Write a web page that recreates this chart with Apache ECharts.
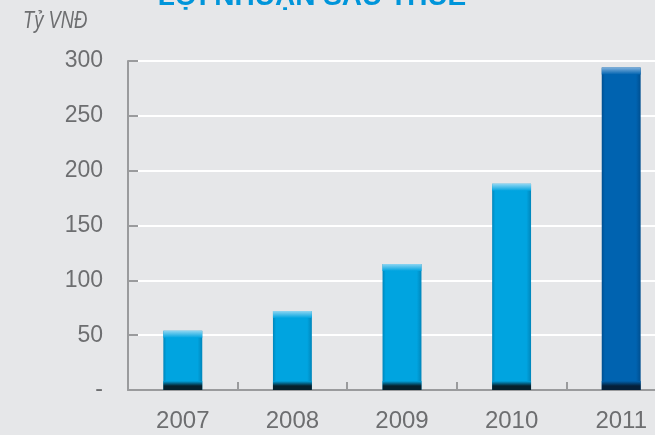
<!DOCTYPE html>
<html>
<head>
<meta charset="utf-8">
<script src="https://cdn.jsdelivr.net/npm/echarts@6/dist/echarts.min.js"></script>
<style>
  html, body { margin: 0; padding: 0; background: #e6e7e9; }
  #chart { width: 655px; height: 435px; }
</style>
</head>
<body>
<div id="chart"></div>
<script>
// Lợi nhuận sau thuế theo năm (tỷ VNĐ)
const years = ['2007', '2008', '2009', '2010', '2011'];
const profit = [54, 72, 115, 188, 294];
const yTicks = [0, 50, 100, 150, 200, 250, 300];

const lightBlue = { main: '#00a4e0', edge: '#0086bb', cap: '#8fd6f2', foot: '#06202c' };
const darkBlue  = { main: '#0063b0', edge: '#004f90', cap: '#7fb0dc', foot: '#05203a' };

const chart = echarts.init(document.getElementById('chart'), null, { renderer: 'canvas' });

function renderBar(params, api) {
  const idx = api.value(0);
  const val = api.value(1);
  const top = api.coord([idx, val]);
  const base = api.coord([idx, 0]);
  const w = api.size([1, 0])[0] * 0.355;
  const x = top[0] - w / 2;
  const h = base[1] - top[1];
  const c = idx === years.length - 1 ? darkBlue : lightBlue;
  const capH = Math.min(7, h / 3);
  const footH = Math.min(9, h / 3);
  return {
    type: 'group',
    children: [
      {
        type: 'rect',
        shape: { x: x, y: top[1], width: w, height: h },
        style: {
          fill: new echarts.graphic.LinearGradient(0, 0, 1, 0, [
            { offset: 0, color: c.edge },
            { offset: 0.08, color: c.main },
            { offset: 0.88, color: c.main },
            { offset: 1, color: c.edge }
          ])
        }
      },
      {
        type: 'rect',
        shape: { x: x, y: top[1], width: w, height: capH },
        style: {
          fill: new echarts.graphic.LinearGradient(0, 0, 0, 1, [
            { offset: 0, color: c.cap },
            { offset: 1, color: c.main }
          ])
        }
      },
      {
        type: 'rect',
        shape: { x: x, y: base[1] - footH, width: w, height: footH },
        style: {
          fill: new echarts.graphic.LinearGradient(0, 0, 0, 1, [
            { offset: 0, color: c.main },
            { offset: 0.55, color: c.foot },
            { offset: 1, color: c.foot }
          ])
        }
      }
    ]
  };
}

chart.setOption({
  backgroundColor: '#e6e7e9',
  animation: false,
  title: {
    text: 'LỢI NHUẬN SAU THUẾ',
    left: 307,
    textAlign: 'center',
    top: -22,
    textStyle: { color: '#0095da', fontSize: 28, fontWeight: 'bold', fontFamily: 'Liberation Sans' }
  },
  graphic: [
    {
      type: 'text',
      left: 23,
      top: 10,
      scaleX: 0.8,
      style: {
        text: 'Tỷ VNĐ',
        fill: '#6d6e70',
        font: 'italic 23px "Liberation Sans"'
      }
    }
  ],
  grid: { left: 128, top: 61, height: 329, width: 548, containLabel: false, outerBoundsMode: 'none' },
  xAxis: {
    type: 'category',
    data: years,
    boundaryGap: true,
    axisLine: { show: true, lineStyle: { color: '#9a9b9d', width: 2 } },
    axisTick: { show: true, inside: true, length: 8, alignWithLabel: false, lineStyle: { color: '#9a9b9d', width: 2 } },
    axisLabel: { color: '#6d6e70', fontSize: 24, fontFamily: 'Liberation Sans', margin: 19 },
    splitLine: { show: false }
  },
  yAxis: {
    type: 'value',
    min: 0,
    max: 300,
    interval: 50,
    axisLine: { show: true, lineStyle: { color: '#9a9b9d', width: 2 } },
    axisTick: { show: true, inside: true, length: 10, lineStyle: { color: '#9a9b9d', width: 2 } },
    axisLabel: {
      color: '#6d6e70', fontSize: 23, fontFamily: 'Liberation Sans', margin: 25,
      formatter: function (v) { return yTicks.indexOf(v) === 0 ? '-' : String(v); }
    },
    splitLine: { show: true, lineStyle: { color: '#ffffff', width: 2 } }
  },
  series: [
    {
      type: 'custom',
      renderItem: renderBar,
      encode: { x: 0, y: 1 },
      data: profit.map(function (v, i) { return [i, v]; }),
      z: 3
    }
  ]
});
</script>
</body>
</html>
